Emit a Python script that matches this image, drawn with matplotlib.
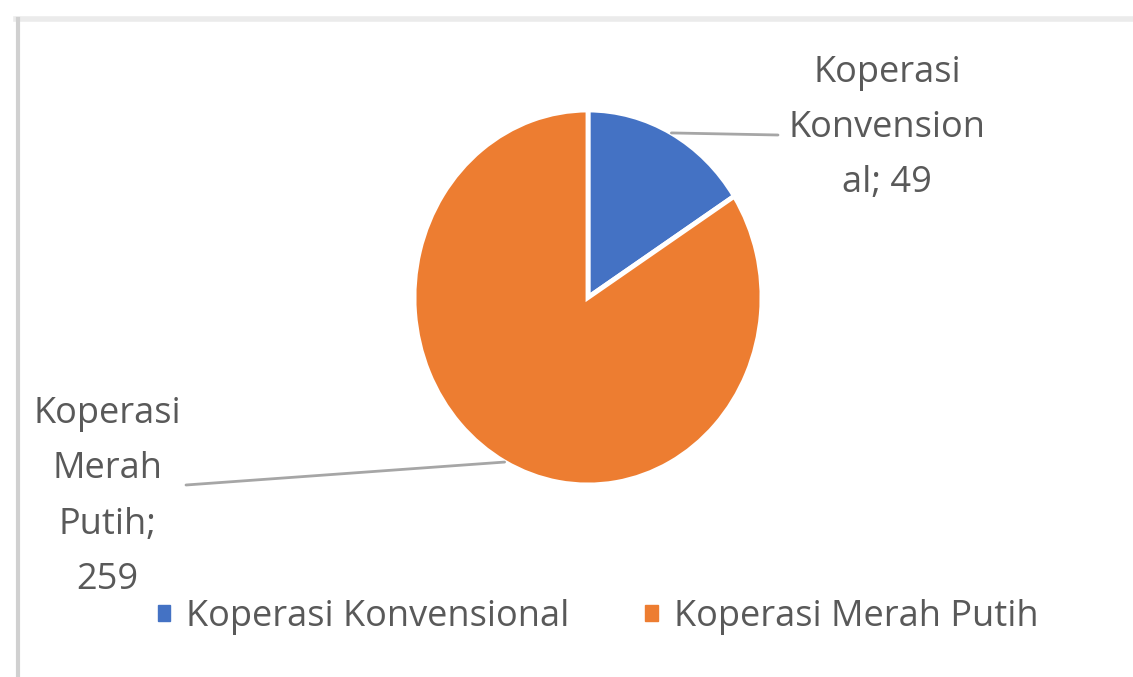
import matplotlib.pyplot as plt
import numpy as np

plt.rcParams['font.family'] = ['Open Sans', 'DejaVu Sans']

# data
labels = ['Koperasi Konvensional', 'Koperasi Merah Putih']
label_text = ['Koperasi\nKonvension\nal; 49', 'Koperasi\nMerah\nPutih;\n259']
values = [49, 259]
colors = ['#4472C4', '#ED7D31']

W, H = 1133, 677
fig = plt.figure(figsize=(W / 100, H / 100), dpi=100)

# pie area (pixels, measured from top-left)
px_left, px_right, px_top, px_bottom = 414, 762, 110, 485
ax = fig.add_axes([px_left / W, 1 - px_bottom / H,
                   (px_right - px_left) / W, (px_bottom - px_top) / H])
wedges, _ = ax.pie(values, colors=colors, startangle=90, counterclock=False,
                   radius=1, wedgeprops=dict(edgecolor='white', linewidth=3.5))
ax.set_aspect('auto')
ax.set_xlim(-1, 1)
ax.set_ylim(-1, 1)
ax.axis('off')

# data labels with leader lines (text positions in figure pixels)
text_pos = [(887, H - 128), (107, H - 497)]
line_end = [(778, H - 135), (186, H - 485)]
for w, txt, tp, le in zip(wedges, label_text, text_pos, line_end):
    ang = np.deg2rad((w.theta1 + w.theta2) / 2)
    x, y = np.cos(ang), np.sin(ang)
    ax.annotate('', xy=(x, y), xytext=le, textcoords='figure pixels',
                arrowprops=dict(arrowstyle='-', color='#a6a6a6', lw=2,
                                shrinkA=0, shrinkB=0))
    fig.text(tp[0] / W, tp[1] / H, txt, ha='center', va='center',
             fontsize=26, color='#595959', linespacing=1.72)

# legend
handles = [plt.Rectangle((0, 0), 1, 1, color=c) for c in colors]
fig.legend(handles, labels, loc='center', bbox_to_anchor=(598 / W, 60 / H),
           ncol=2, frameon=False, fontsize=26, labelcolor='#595959',
           handlelength=0.34, handleheight=0.34, handletextpad=0.45,
           columnspacing=2.1)

# faint chart-area border
fig.add_artist(plt.Line2D([16 / W, 1], [1 - 19 / H, 1 - 19 / H],
                          color='#ebebeb', lw=4, transform=fig.transFigure))
fig.add_artist(plt.Line2D([18 / W, 18 / W], [0, 1 - 19 / H],
                          color='#d0d0d0', lw=3, transform=fig.transFigure))

fig.savefig('out.png', dpi=100, facecolor='white')
